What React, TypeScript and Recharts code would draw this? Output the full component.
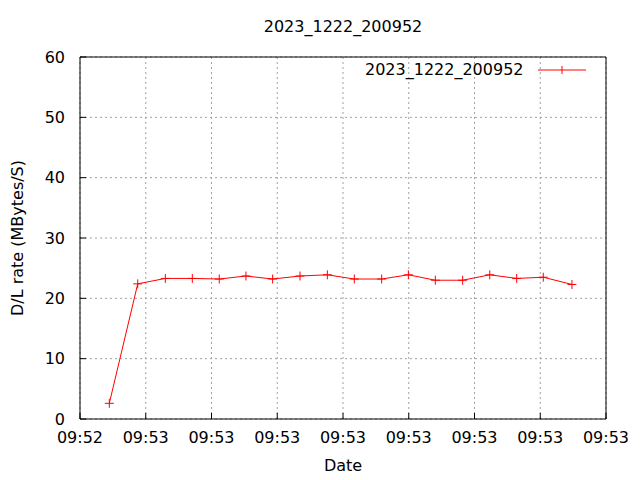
import React from 'react';
import {
  LineChart,
  Line,
  XAxis,
  YAxis,
  CartesianGrid,
  Legend,
} from 'recharts';

// seconds since 09:52:xx (axis start)
const times = [2.23, 4.39, 6.49, 8.54, 10.59, 12.62, 14.65, 16.73, 18.81, 20.86, 22.94, 24.97, 27.02, 29.1, 31.16, 33.21, 35.23, 37.41];
const rates = [2.6, 22.4, 23.3, 23.3, 23.2, 23.7, 23.2, 23.7, 23.9, 23.2, 23.2, 23.9, 23.0, 23.0, 23.9, 23.3, 23.5, 22.3];

const xTicks = [0, 5, 10, 15, 20, 25, 30, 35, 40];
const xTickLabels = ['09:52', '09:53', '09:53', '09:53', '09:53', '09:53', '09:53', '09:53', '09:53'];
const yTicks = [0, 10, 20, 30, 40, 50, 60];

const seriesName = '2023_1222_200952';
const title = '2023_1222_200952';

const data = times.map((t, i) => ({ t, rate: rates[i] }));

const FONT = '"DejaVu Sans", sans-serif';

const PlusDot = (props: any) => {
  const { cx, cy } = props;
  if (cx == null || cy == null) return null;
  return (
    <g stroke="#ff0000" strokeWidth={1}>
      <line x1={cx - 4.5} y1={cy} x2={cx + 4.5} y2={cy} />
      <line x1={cx} y1={cy - 4.5} x2={cx} y2={cy + 4.5} />
    </g>
  );
};

const LegendContent = () => (
  <div style={{ display: 'flex', alignItems: 'center', fontFamily: FONT, fontSize: 16, color: '#000', lineHeight: '18px' }}>
    <span>{seriesName}</span>
    <svg width={50} height={18} style={{ marginLeft: 13 }}>
      <line x1={1} y1={9} x2={49} y2={9} stroke="#ff0000" strokeWidth={1} />
      <line x1={25} y1={5} x2={25} y2={13} stroke="#ff0000" strokeWidth={1} />
    </svg>
  </div>
);

export default function App() {
  const tickStyle = { fontFamily: FONT, fontSize: 16, fill: '#000' };
  return (
    <div style={{ position: 'absolute', left: 0, top: 0, width: 640, height: 480, background: '#fff' }}>
      <div
        style={{
          position: 'absolute',
          left: 0,
          width: 686,
          top: 17,
          textAlign: 'center',
          fontFamily: FONT,
          fontSize: 16,
          lineHeight: '20px',
          color: '#000',
        }}
      >
        {title}
      </div>
      <LineChart
        width={640}
        height={480}
        data={data}
        margin={{ top: 27, right: 4, bottom: 31, left: 20 }}
      >
        <CartesianGrid
          stroke="#a0a0a0"
          strokeDasharray="2 3"
          horizontalValues={yTicks}
          verticalValues={xTicks}
        />
        <XAxis
          dataKey="t"
          type="number"
          domain={[0, 40]}
          ticks={xTicks}
          interval={0}
          allowDataOverflow
          height={30}
          tickSize={-6}
          tickMargin={19}
          tickFormatter={(v: number) => xTickLabels[xTicks.indexOf(v)] ?? ''}
          tick={tickStyle}
          axisLine={{ stroke: '#000' }}
          tickLine={{ stroke: '#000' }}
          label={{ value: 'Date', position: 'insideBottom', offset: -22, style: { fontFamily: FONT, fontSize: 16, fill: '#000' } }}
        />
        <XAxis
          xAxisId="top"
          orientation="top"
          type="number"
          domain={[0, 40]}
          ticks={xTicks}
          allowDataOverflow
          height={30}
          tickSize={-6}
          tick={false}
          axisLine={{ stroke: '#000' }}
          tickLine={{ stroke: '#000' }}
        />
        <YAxis
          type="number"
          domain={[0, 60]}
          ticks={yTicks}
          interval={0}
          allowDataOverflow
          width={60}
          tickSize={-6}
          tickMargin={21}
          tick={tickStyle}
          axisLine={{ stroke: '#000' }}
          tickLine={{ stroke: '#000' }}
          label={{
            value: 'D/L rate (MBytes/S)',
            angle: -90,
            position: 'insideLeft',
            offset: -3,
            style: { textAnchor: 'middle', fontFamily: FONT, fontSize: 16, fill: '#000' },
          }}
        />
        <YAxis
          yAxisId="right"
          orientation="right"
          type="number"
          domain={[0, 60]}
          ticks={yTicks}
          allowDataOverflow
          width={30}
          tickSize={-6}
          tick={false}
          axisLine={{ stroke: '#000' }}
          tickLine={{ stroke: '#000' }}
        />
        <Legend
          layout="horizontal"
          verticalAlign="middle"
          align="center"
          wrapperStyle={{ left: 365, top: 61, width: 240 }}
          content={LegendContent}
        />
        <Line
          dataKey="rate"
          name={seriesName}
          type="linear"
          stroke="#ff0000"
          strokeWidth={1}
          dot={<PlusDot />}
          activeDot={false}
          isAnimationActive={false}
        />
      </LineChart>
    </div>
  );
}
